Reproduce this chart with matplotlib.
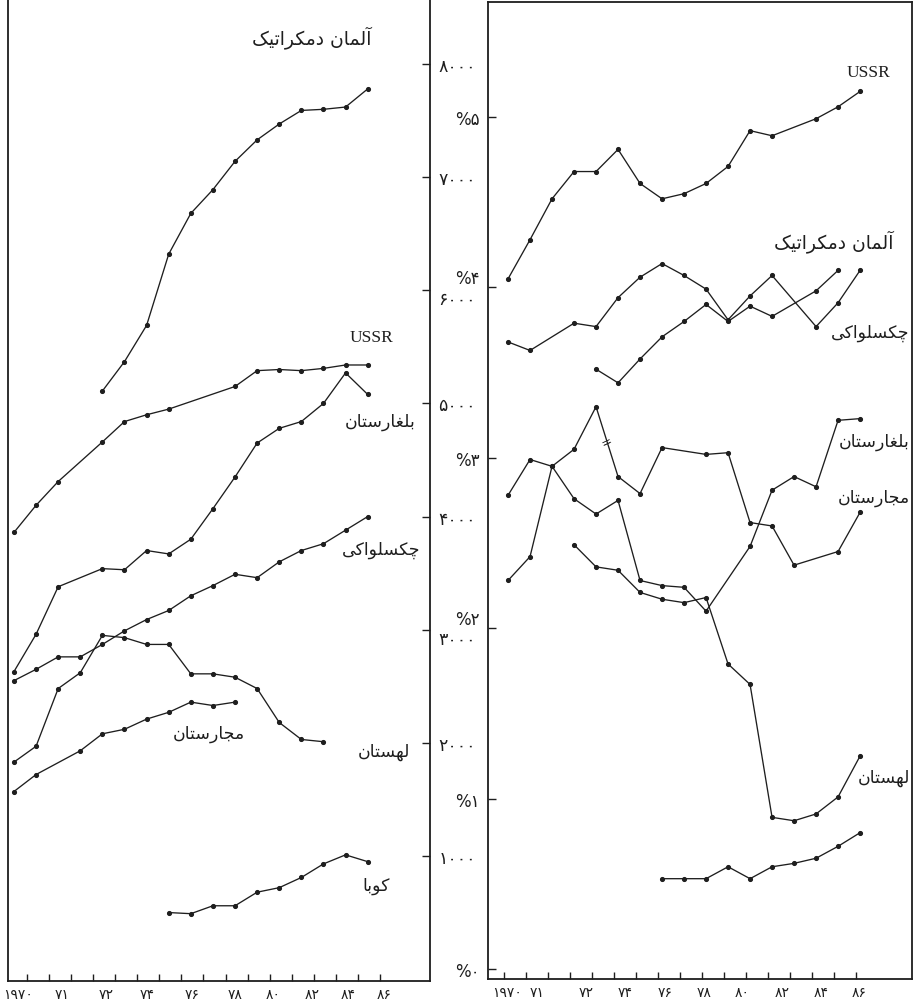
import matplotlib
matplotlib.use('Agg')
import matplotlib.pyplot as plt

# ---------------- data ----------------
# Left panel: absolute values
gdr_l_years = [1974, 1975, 1976, 1977, 1978, 1979, 1980, 1981, 1982, 1983, 1984, 1985, 1986]
gdr_l = [5110, 5370, 5690, 6320, 6680, 6890, 7140, 7330, 7470, 7590, 7600, 7620, 7780]

ussr_l_years = [1970, 1971, 1972, 1974, 1975, 1976, 1977, 1980, 1981, 1982, 1983, 1984, 1985, 1986]
ussr_l = [3860, 4100, 4310, 4660, 4840, 4900, 4950, 5150, 5290, 5300, 5290, 5310, 5340, 5340]

bul_l_years = [1970, 1971, 1972, 1974, 1975, 1976, 1977, 1978, 1979, 1980, 1981, 1982, 1983, 1984, 1985, 1986]
bul_l = [2630, 2960, 3380, 3540, 3530, 3700, 3670, 3800, 4070, 4350, 4650, 4780, 4840, 5000, 5270, 5080]

cze_l_years = list(range(1970, 1987))
cze_l = [2550, 2650, 2760, 2760, 2870, 2990, 3090, 3170, 3300, 3390, 3490, 3460, 3600, 3700, 3760, 3880, 4000]

pol_l_years = list(range(1970, 1985))
pol_l = [1830, 1970, 2480, 2620, 2950, 2930, 2870, 2870, 2610, 2610, 2580, 2480, 2180, 2030, 2010]

hun_l_years = [1970, 1971, 1973, 1974, 1975, 1976, 1977, 1978, 1979, 1980]
hun_l = [1570, 1720, 1930, 2080, 2120, 2210, 2270, 2360, 2330, 2360]

cub_l_years = list(range(1977, 1987))
cub_l = [500, 490, 560, 560, 680, 720, 810, 930, 1010, 950]

# Right panel: percentages
ussr_r_years = [1970, 1971, 1972, 1973, 1974, 1975, 1976, 1977, 1978, 1979, 1980, 1981, 1982, 1984, 1985, 1986]
ussr_r = [4.05, 4.28, 4.52, 4.68, 4.68, 4.81, 4.61, 4.52, 4.55, 4.61, 4.71, 4.92, 4.89, 4.99, 5.06, 5.15]

cze_r_years = [1970, 1971, 1973, 1974, 1975, 1976, 1977, 1978, 1979, 1980, 1981, 1982, 1984, 1985, 1986]
cze_r = [3.68, 3.63, 3.79, 3.77, 3.94, 4.06, 4.14, 4.07, 3.99, 3.81, 3.95, 4.07, 3.77, 3.91, 4.10]

gdr_r_years = [1974, 1975, 1976, 1977, 1978, 1979, 1980, 1981, 1982, 1984, 1985]
gdr_r = [3.52, 3.44, 3.58, 3.71, 3.80, 3.90, 3.80, 3.89, 3.83, 3.98, 4.10]

bul_r_years = [1970, 1971, 1972, 1973, 1974, 1975, 1976, 1977, 1978, 1979, 1981, 1982, 1983, 1984, 1985, 1986]
bul_r = [2.78, 2.99, 2.95, 2.76, 2.67, 2.75, 2.28, 2.25, 2.24, 2.10, 2.48, 2.81, 2.89, 2.83, 3.22, 3.23]

hun_r_years = [1970, 1971, 1972, 1973, 1974, 1975, 1976, 1977, 1979, 1980, 1981, 1982, 1983, 1985, 1986]
hun_r = [2.28, 2.42, 2.95, 3.05, 3.30, 2.89, 2.79, 3.06, 3.02, 3.03, 2.62, 2.60, 2.37, 2.45, 2.68]

pol_r_years = [1973, 1974, 1975, 1976, 1977, 1978, 1979, 1980, 1981, 1982, 1983, 1984, 1985, 1986]
pol_r = [2.49, 2.36, 2.34, 2.21, 2.17, 2.15, 2.18, 1.79, 1.67, 0.89, 0.87, 0.91, 1.01, 1.25]

cub_r_years = list(range(1977, 1987))
cub_r = [0.53, 0.53, 0.53, 0.60, 0.53, 0.60, 0.62, 0.65, 0.72, 0.80]

left_yticks = [1000, 2000, 3000, 4000, 5000, 6000, 7000, 8000]
left_ylabels = ['۱۰۰۰', '۲۰۰۰', '۳۰۰۰', '۴۰۰۰', '۵۰۰۰', '۶۰۰۰', '۷۰۰۰', '۸۰۰۰']
right_yticks = [0, 1, 2, 3, 4, 5]
right_ylabels = ['%۰', '%۱', '%۲', '%۳', '%۴', '%۵']
x_labels = ['۱۹۷۰', '۷۱', '۷۲', '۷۴', '۷۶', '۷۸', '۸۰', '۸۲', '۸۴', '۸۶']

# ---------------- minimal Persian shaping (presentation forms) ----------------
FORMS = {
    '\u0622': ('\uFE81', '\uFE82', None, None),
    '\u0627': ('\uFE8D', '\uFE8E', None, None),
    '\u0628': ('\uFE8F', '\uFE90', '\uFE91', '\uFE92'),
    '\u062A': ('\uFE95', '\uFE96', '\uFE97', '\uFE98'),
    '\u062C': ('\uFE9D', '\uFE9E', '\uFE9F', '\uFEA0'),
    '\u0686': ('\uFB7A', '\uFB7B', '\uFB7C', '\uFB7D'),
    '\u062F': ('\uFEA9', '\uFEAA', None, None),
    '\u0631': ('\uFEAD', '\uFEAE', None, None),
    '\u0633': ('\uFEB1', '\uFEB2', '\uFEB3', '\uFEB4'),
    '\u063A': ('\uFECD', '\uFECE', '\uFECF', '\uFED0'),
    '\u06A9': ('\uFB8E', '\uFB8F', '\uFB90', '\uFB91'),
    '\u0644': ('\uFEDD', '\uFEDE', '\uFEDF', '\uFEE0'),
    '\u0645': ('\uFEE1', '\uFEE2', '\uFEE3', '\uFEE4'),
    '\u0646': ('\uFEE5', '\uFEE6', '\uFEE7', '\uFEE8'),
    '\u0647': ('\uFEE9', '\uFEEA', '\uFEEB', '\uFEEC'),
    '\u0648': ('\uFEED', '\uFEEE', None, None),
    '\u06CC': ('\uFBFC', '\uFBFD', '\uFBFE', '\uFBFF'),
}


def fa(s):
    s = s.replace('\u0643', '\u06A9').replace('\u064A', '\u06CC')
    out = []
    for i, c in enumerate(s):
        f = FORMS.get(c)
        if f is None:
            out.append(c)
            continue
        prev = s[i - 1] if i > 0 else ''
        nxt = s[i + 1] if i + 1 < len(s) else ''
        jp = prev in FORMS and FORMS[prev][2] is not None
        jn = f[2] is not None and nxt in FORMS
        if jp and jn:
            g = f[3]
        elif jp:
            g = f[1]
        elif jn:
            g = f[2]
        else:
            g = f[0]
        out.append(g)
    return ''.join(reversed(out))


# ---------------- figure ----------------
W, H = 916, 1003
fig = plt.figure(figsize=(W / 100, H / 100), dpi=100)
fig.patch.set_facecolor('white')
plt.rcParams['font.family'] = ['DejaVu Sans']

INK = '#1e1e1e'
line_kw = dict(color=INK, lw=0.95, marker='o', ms=2.7, mfc=INK, mec=INK)


def px_axes(x0, y0, x1, y1):
    return fig.add_axes([x0 / W, 1 - y1 / H, (x1 - x0) / W, (y1 - y0) / H])


def ftext(px, py, s, **kw):
    fig.text(px / W, 1 - py / H, s, **kw)


# Left panel
ax1 = px_axes(8, 0, 430, 982)
ax1.set_xlim(1969.73, 1988.82)
ax1.set_ylim(-105, 8575)
for yrs, vals in [(gdr_l_years, gdr_l), (ussr_l_years, ussr_l), (bul_l_years, bul_l),
                  (cze_l_years, cze_l), (pol_l_years, pol_l), (hun_l_years, hun_l),
                  (cub_l_years, cub_l)]:
    ax1.plot(yrs, vals, **line_kw)
ax1.spines['top'].set_visible(False)
for s in ['left', 'right', 'bottom']:
    ax1.spines[s].set_linewidth(1.3)
    ax1.spines[s].set_color(INK)
ax1.yaxis.tick_right()
ax1.set_yticks(left_yticks)
ax1.set_yticklabels(left_ylabels, fontsize=12.5)
ax1.tick_params(axis='y', direction='in', length=6, width=1, pad=6, colors=INK)
for i in (2, 5):
    ax1.get_yticklabels()[i].set_verticalalignment('top')
ax1.set_xticks([1970.57 + j for j in range(17)], minor=True)
ax1.set_xticks([1970.2, 1972.17, 1974.16, 1976.02, 1978.05, 1980.0, 1981.72, 1983.48, 1985.11, 1986.74])
ax1.set_xticklabels(x_labels, fontsize=10)
ax1.tick_params(axis='x', which='minor', direction='in', length=5, width=1, colors=INK)
ax1.tick_params(axis='x', which='major', length=0, pad=4, colors=INK)

# Right panel
ax2 = px_axes(488, 3, 912, 980)
ax2.set_xlim(1969.09, 1988.36)
ax2.set_ylim(-0.0587, 5.675)
for yrs, vals in [(ussr_r_years, ussr_r), (cze_r_years, cze_r), (gdr_r_years, gdr_r),
                  (bul_r_years, bul_r), (hun_r_years, hun_r), (pol_r_years, pol_r),
                  (cub_r_years, cub_r)]:
    ax2.plot(yrs, vals, **line_kw)
for s in ax2.spines.values():
    s.set_linewidth(1.3)
    s.set_color(INK)
ax2.set_yticks(right_yticks)
ax2.set_yticklabels(right_ylabels, fontsize=12)
ax2.tick_params(axis='y', direction='in', length=6, width=1, pad=6, colors=INK)
for i in (2, 4):
    ax2.get_yticklabels()[i].set_verticalalignment('bottom')
ax2.set_xticks([1969.8 + j for j in range(17)], minor=True)
ax2.set_xticks([1969.95, 1971.32, 1973.55, 1975.32, 1977.14, 1978.91, 1980.64, 1982.45, 1984.23, 1985.95])
ax2.set_xticklabels(x_labels, fontsize=10)
ax2.tick_params(axis='x', which='minor', direction='in', length=5, width=1, colors=INK)
ax2.tick_params(axis='x', which='major', length=0, pad=4, colors=INK)

# break mark on the Hungary line (between 1974 and 1975)
bx = (hun_r_years[4] + hun_r_years[5]) / 2
by = (hun_r[4] + hun_r[5]) / 2
ax2.text(bx, by, '=', fontsize=9, rotation=25, ha='center', va='center', color=INK)

# ---------------- series labels ----------------
lab = dict(fontsize=12.5, color=INK, va='center', ha='right')
serif = dict(fontsize=12.5, color=INK, va='center', ha='right', family='Liberation Serif')

ftext(372, 38, fa('آلمان دمکراتیک'), **dict(lab, fontsize=13.5))
ftext(393, 338, 'USSR', **serif)
ftext(416, 422, fa('بلغارستان'), **lab)
ftext(420, 550, fa('چکسلواکی'), **lab)
ftext(245, 734, fa('مجارستان'), **lab)
ftext(410, 752, fa('لهستان'), **lab)
ftext(390, 886, fa('کوبا'), **lab)

ftext(890, 73, 'USSR', **serif)
ftext(893, 242, fa('آلمان دمکراتیک'), **dict(lab, fontsize=13.5))
ftext(909, 333, fa('چکسلواکی'), **lab)
ftext(910, 442, fa('بلغارستان'), **lab)
ftext(910, 498, fa('مجارستان'), **lab)
ftext(910, 778, fa('لهستان'), **lab)

fig.savefig('out.png', dpi=100, facecolor='white')
